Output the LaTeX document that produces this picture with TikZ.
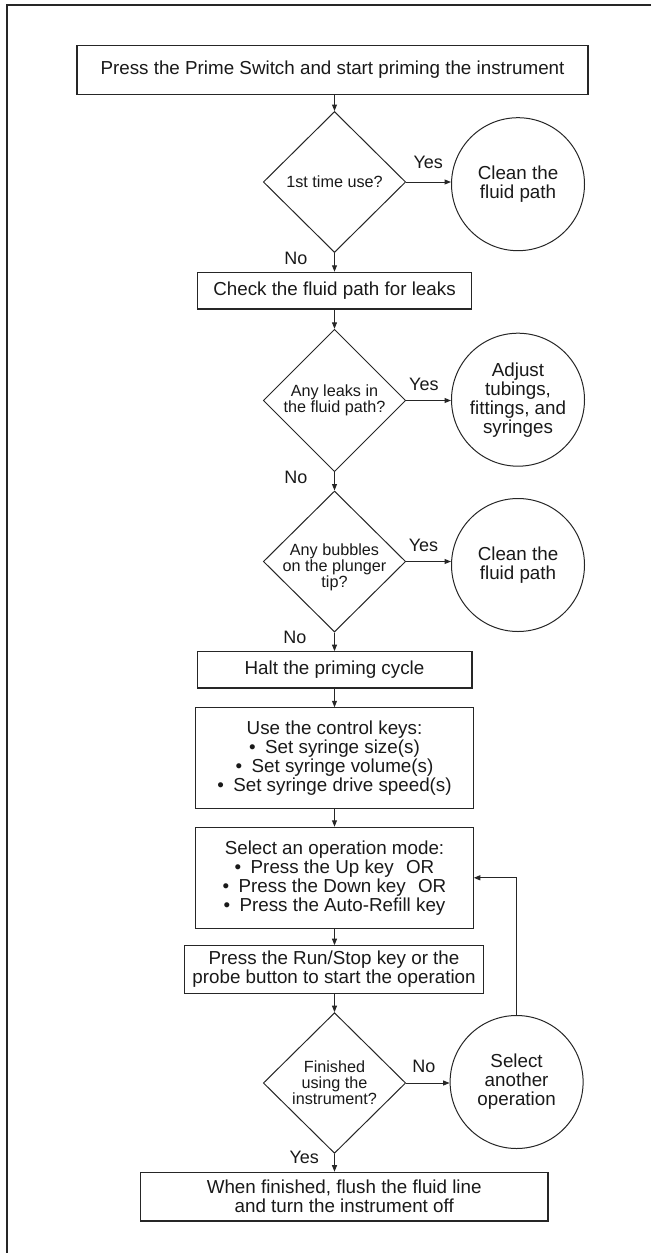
\documentclass[tikz,border=0pt]{standalone}
\usepackage{fontspec}
\setmainfont{Liberation Sans}
\usetikzlibrary{shapes.geometric,arrows.meta,calc}
\begin{document}
\begin{tikzpicture}[x=1pt,y=-1pt,
  ln/.style={draw=black!85,line width=1pt},
  box/.style={ln,line width=1.2pt,rectangle,inner sep=0pt,align=center,font=\fontsize{18.8}{19}\selectfont,text=black!90},
  dia/.style={ln,diamond,inner sep=0pt,minimum width=142.4pt,minimum height=141pt},
  dtext/.style={align=center,font=\fontsize{16.2}{16}\selectfont,text=black!90,inner sep=0pt},
  circ/.style={ln,circle,inner sep=0pt,minimum size=133pt,align=center,font=\fontsize{18.8}{19}\selectfont,text=black!90},
  lab/.style={inner sep=0pt,font=\fontsize{18}{19}\selectfont,text=black!90},
  arr/.style={ln,-{Triangle[length=6.5pt,width=5pt]}}]
\useasboundingbox (0,0) rectangle (651,1253);
\draw[draw=black!85,line width=1.3pt] (651,5) -- (7,5) -- (7,1253);

\node[box,minimum width=511pt,minimum height=48.6pt] (b1) at (332.5,70) {Press the Prime Switch and start priming the instrument};
\node[dia,label={[dtext]center:1st time use?}] (d1) at (334.5,182) {};
\node[circ] (c1) at (518,184.2) {Clean the\\fluid path};
\node[box,minimum width=274.4pt,minimum height=36.7pt] (b2) at (334.5,290.7) {Check the fluid path for leaks};
\node[dia,minimum height=142.4pt,label={[dtext]center:{Any leaks in\\the fluid path?}}] (d2) at (334.5,400.5) {};
\node[circ] (c2) at (518,399.7) {Adjust\\tubings,\\fittings, and\\syringes};
\node[dia,label={[dtext,yshift=-6pt]center:{Any bubbles\\on the plunger\\tip?}}] (d3) at (334.5,561.5) {};
\node[circ] (c3) at (518,565) {Clean the\\fluid path};
\node[box,minimum width=274.8pt,minimum height=36.3pt] (b3) at (334.5,669.9) {Halt the priming cycle};
\node[box,minimum width=277.3pt,minimum height=100.9pt] (b4) at (334.5,758.3) {Use the control keys:\\\textbullet\hspace{0.5em}Set syringe size(s)\\\textbullet\hspace{0.5em}Set syringe volume(s)\\\textbullet\hspace{0.5em}Set syringe drive speed(s)};
\node[box,minimum width=277.3pt,minimum height=100.9pt] (b5) at (334.5,877.8) {Select an operation mode:\\\textbullet\hspace{0.5em}Press the Up key\hspace{0.65em}OR\\\textbullet\hspace{0.5em}Press the Down key\hspace{0.65em}OR\\\textbullet\hspace{0.5em}Press the Auto-Refill key};
\node[box,minimum width=299.3pt,minimum height=47.5pt] (b6) at (334,969.5) {Press the Run/Stop key or the\\probe button to start the operation};
\node[dia,minimum height=140.7pt,label={[dtext]center:{Finished\\using the\\instrument?}}] (d4) at (334.5,1083) {};
\node[circ] (c4) at (516.6,1082) {Select\\another\\operation};
\node[box,minimum width=407.7pt,minimum height=48.6pt] (b7) at (344.2,1196.6) {When finished, flush the fluid line\\and turn the instrument off};

\node[lab] (y1) at ($(d1.east)+(22,-20)$) {Yes};
\node[lab] (y2) at ($(d2.east)+(17.7,-16.2)$) {Yes};
\node[lab] (y3) at ($(d3.east)+(17.3,-16.5)$) {Yes};
\node[lab] (n4) at ($(d4.east)+(17.7,-16.3)$) {No};
\node[lab] (n1) at ($(d1.south)+(-38.5,5.7)$) {No};
\node[lab] (n2) at ($(d2.south)+(-38.5,5)$) {No};
\node[lab] (n3) at ($(d3.south)+(-39.5,4.4)$) {No};
\node[lab] (y4) at ($(d4.south)+(-30.2,3.7)$) {Yes};

\draw[arr] (d1.north |- b1.south) -- (d1.north);
\draw[arr] (d1.south) -- (d1.south |- b2.north);
\draw[arr] (d2.north |- b2.south) -- (d2.north);
\draw[arr] (d2.south) -- (d3.north);
\draw[arr] (d3.south) -- (d3.south |- b3.north);
\draw[arr] (b3.south) -- (b4.north);
\draw[arr] (b4.south) -- (b5.north);
\draw[arr] (b5.south) -- (b5.south |- b6.north);
\draw[arr] (d4.north |- b6.south) -- (d4.north);
\draw[arr] (d4.south) -- (d4.south |- b7.north);

\draw[arr] (d1.east) -- (d1.east -| c1.west);
\draw[arr] (d2.east) -- (d2.east -| c2.west);
\draw[arr] (d3.east) -- (d3.east -| c3.west);
\draw[arr] (d4.east) -- (d4.east -| c4.west);
\draw[arr] (c4.north) |- (b5.east);
\end{tikzpicture}
\end{document}
